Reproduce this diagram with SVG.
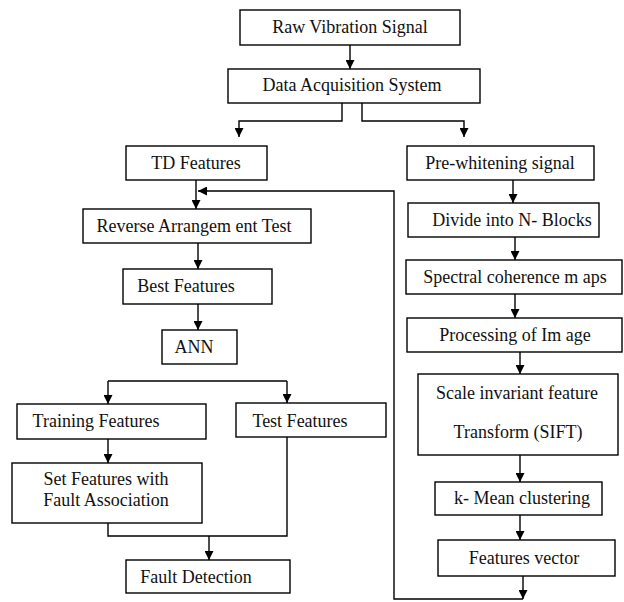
<svg xmlns="http://www.w3.org/2000/svg" width="624" height="602" viewBox="0 0 624 602">
<style>
.box{fill:#fff;stroke:#000;stroke-width:1.4}
.t{font-family:"Liberation Serif","Times New Roman",serif;font-size:18px;fill:#111;text-anchor:middle}
.c{fill:none;stroke:#000;stroke-width:1.4}
</style>
<defs>
<marker id="ah" viewBox="0 0 10 10" refX="10" refY="5" markerWidth="9" markerHeight="9" markerUnits="userSpaceOnUse" orient="auto">
<path d="M0,0 L10,5 L0,10 z" fill="#000"/>
</marker>
</defs>
<rect width="624" height="602" fill="#fff"/>
<g id="connectors">
<path class="c" d="M350,45 V69" marker-end="url(#ah)"/>
<path class="c" d="M342,103 V121 H239 V137" marker-end="url(#ah)"/>
<path class="c" d="M362,103 V121 H464 V137" marker-end="url(#ah)"/>
<path class="c" d="M196,180 V209" marker-end="url(#ah)"/>
<path class="c" d="M523,576 V599" marker-end="url(#ah)"/>
<path class="c" d="M523,599 H394 V191 H198" marker-end="url(#ah)"/>
<path class="c" d="M513,180 V203" marker-end="url(#ah)"/>
<path class="c" d="M515,237 V260" marker-end="url(#ah)"/>
<path class="c" d="M515,294 V318" marker-end="url(#ah)"/>
<path class="c" d="M520,352 V374" marker-end="url(#ah)"/>
<path class="c" d="M520,455 V482" marker-end="url(#ah)"/>
<path class="c" d="M520,515 V540" marker-end="url(#ah)"/>
<path class="c" d="M198,243 V269" marker-end="url(#ah)"/>
<path class="c" d="M198,304 V330" marker-end="url(#ah)"/>
<path class="c" d="M108,381 H287"/>
<path class="c" d="M108,381 V404" marker-end="url(#ah)"/>
<path class="c" d="M287,381 V403" marker-end="url(#ah)"/>
<path class="c" d="M108,439 V463" marker-end="url(#ah)"/>
<path class="c" d="M108,523 V536 H287 V437"/>
<path class="c" d="M209,536 V560" marker-end="url(#ah)"/>
</g>
<g id="raw"><rect class="box" x="240" y="10" width="220" height="35"/><text class="t" x="350" y="33">Raw Vibration Signal</text></g>
<g id="daq"><rect class="box" x="228" y="69" width="252" height="34"/><text class="t" x="352" y="91">Data Acquisition System</text></g>
<g id="td"><rect class="box" x="126" y="146" width="141" height="34"/><text class="t" x="196" y="169">TD Features</text></g>
<g id="prewhite"><rect class="box" x="407" y="146" width="187" height="34"/><text class="t" x="500" y="169">Pre-whitening  signal</text></g>
<g id="divide"><rect class="box" x="408" y="203" width="191" height="34"/><text class="t" x="512" y="226">Divide into N- Blocks</text></g>
<g id="spectral"><rect class="box" x="406" y="260" width="216" height="34"/><text class="t" x="515" y="283">Spectral coherence m aps</text></g>
<g id="processing"><rect class="box" x="407" y="318" width="215" height="34"/><text class="t" x="515" y="341">Processing of Im age</text></g>
<g id="sift"><rect class="box" x="418" y="374" width="200" height="81"/><text class="t" x="517" y="399">Scale invariant feature</text><text class="t" x="518" y="438">Transform  (SIFT)</text></g>
<g id="kmean"><rect class="box" x="435" y="482" width="167" height="33"/><text class="t" x="522" y="504">k- Mean clustering</text></g>
<g id="fvector"><rect class="box" x="438" y="540" width="177" height="36"/><text class="t" x="524" y="564">Features vector</text></g>
<g id="reverse"><rect class="box" x="83" y="209" width="228" height="34"/><text class="t" x="194" y="232">Reverse Arrangem ent Test</text></g>
<g id="best"><rect class="box" x="123" y="269" width="149" height="35"/><text class="t" x="186" y="292">Best Features</text></g>
<g id="ann"><rect class="box" x="162" y="330" width="75" height="34"/><text class="t" x="194" y="353">ANN</text></g>
<g id="training"><rect class="box" x="17" y="404" width="189" height="35"/><text class="t" x="96" y="427">Training Features</text></g>
<g id="test"><rect class="box" x="236" y="403" width="150" height="34"/><text class="t" x="300" y="427">Test Features</text></g>
<g id="setfeat"><rect class="box" x="12" y="463" width="190" height="60"/><text class="t" x="106" y="485">Set Features with</text><text class="t" x="106" y="506">Fault Association</text></g>
<g id="fault"><rect class="box" x="126" y="560" width="164" height="33"/><text class="t" x="196" y="583">Fault Detection</text></g>
</svg>
